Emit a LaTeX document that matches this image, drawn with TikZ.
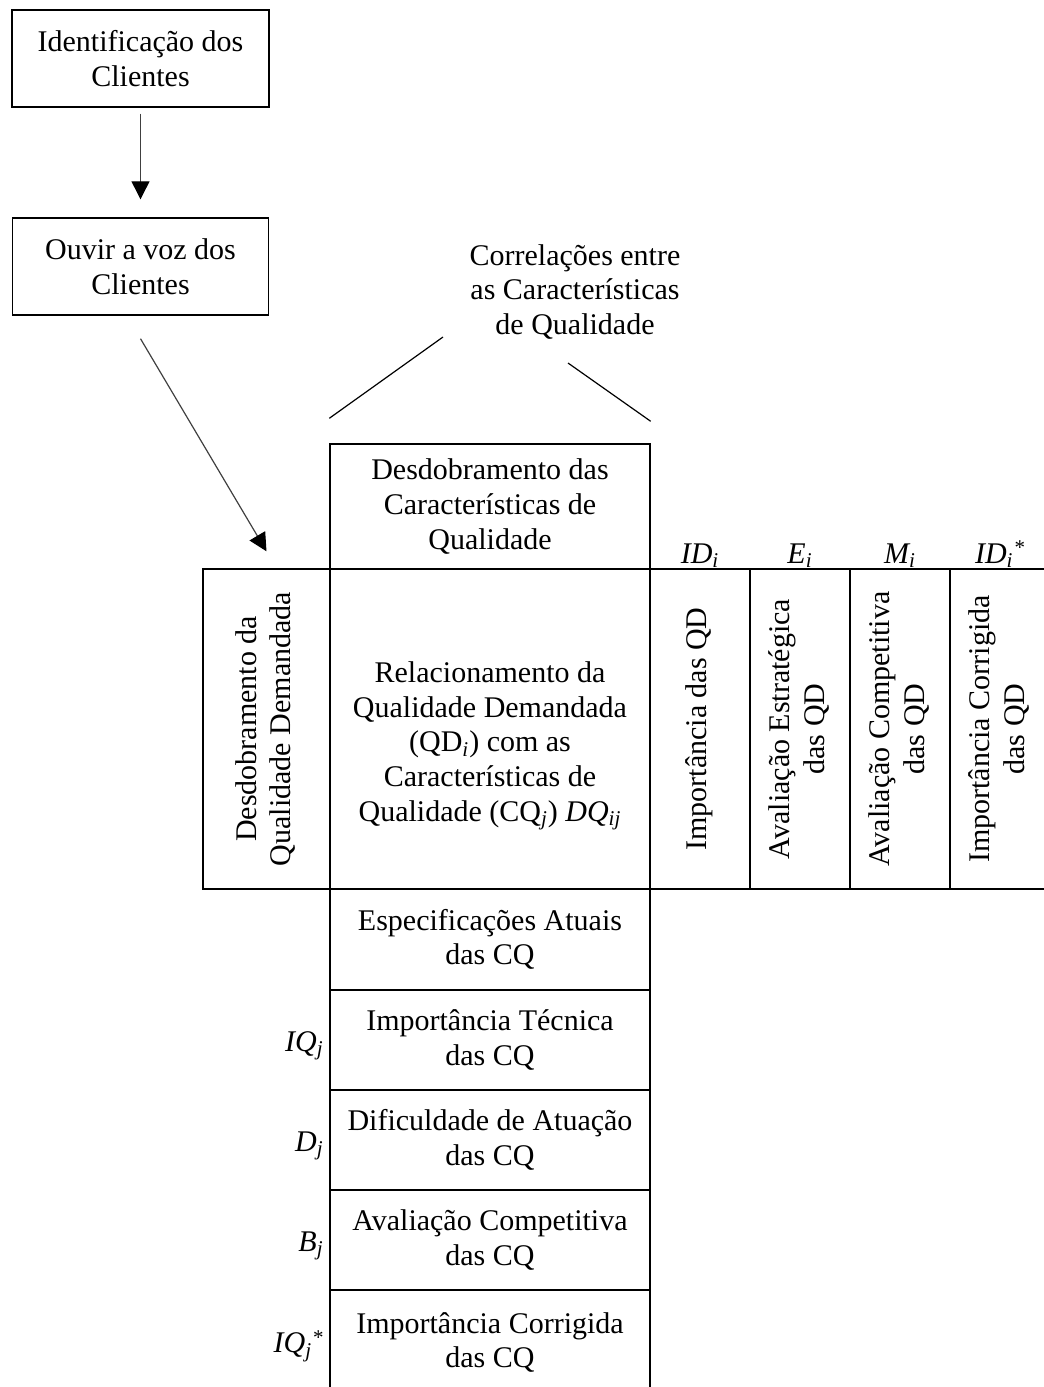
\documentclass[tikz,border=0pt]{standalone}
\usepackage{fontspec}
\setmainfont{Liberation Serif}
\usepackage{graphicx}
\usetikzlibrary{arrows.meta}
\newcommand{\vtext}[1]{\rotatebox{90}{\begin{tabular}{@{}c@{}}#1\end{tabular}}}
\begin{document}
\begin{tikzpicture}[x=0.5pt,y=-0.5pt,
  every node/.style={font=\fontsize{15}{17.3}\selectfont, inner sep=0pt},
  cell/.style={draw, line width=0.7pt, align=center},
  tag/.style={font=\fontsize{15}{17.3}\selectfont\itshape},
  link/.style={line width=0.6pt, draw=black!75, -{Triangle[length=9pt,width=9pt,color=black]}},
  roof/.style={line width=0.6pt}]
\useasboundingbox (0,0) rectangle (1044,1387);

% customer boxes
\node[cell, minimum width=128.5pt, minimum height=48.5pt] (ident) at (140.5,58.5) {Identificação dos\\Clientes};
\node[cell, minimum width=128pt, minimum height=48.5pt] (ouvir) at (140.5,266.5) {Ouvir a voz dos\\Clientes};

% roof of the house
\node[align=center] (corr) at (575,292) {Correlações entre\\as Características\\de Qualidade};
\node[cell, minimum width=160pt, minimum height=62.5pt] (dcq) at (490,506.5) {Desdobramento das\\Características de\\Qualidade};
\coordinate (roofl) at (443,337);
\coordinate (roofr) at (568,363);
\draw[roof] ([yshift=12.5pt]dcq.north west) -- (roofl);
\draw[roof] (roofr) -- ([yshift=11pt]dcq.north east);

% central row
\node[cell, minimum width=63.5pt, minimum height=160pt] (dqd) at (266.5,729) {\vtext{Desdobramento da\\Qualidade Demandada}};
\node[cell, minimum width=160pt, minimum height=160pt] (rel) at (490,729) {\\[10pt]Relacionamento da\\Qualidade Demandada\\(QD\textsubscript{\textit{i}}) com as\\Características de\\Qualidade (CQ\textsubscript{\textit{j}}) \textit{DQ\textsubscript{ij}}};
\node[cell, minimum width=50pt, minimum height=160pt] (c1) at (700,729) {\vtext{Importância das QD}};
\node[cell, minimum width=50pt, minimum height=160pt] (c2) at (800,729) {\vtext{Avaliação Estratégica\\das QD}};
\node[cell, minimum width=50pt, minimum height=160pt] (c3) at (900,729) {\vtext{Avaliação Competitiva\\das QD}};
\node[cell, minimum width=50pt, minimum height=160pt] (c4) at (1000,729) {\vtext{Importância Corrigida\\das QD}};

% column headings
\node[tag, anchor=base] (h1) at (700,563) {ID\textsubscript{i}};
\node[tag, anchor=base] (h2) at (800,563) {E\textsubscript{i}};
\node[tag, anchor=base] (h3) at (900,563) {M\textsubscript{i}};
\node[tag, anchor=base] (h4) at (1000,563) {ID\textsubscript{i}\raisebox{-1pt}{\textsuperscript{*}}};

% lower column
\node[cell, minimum width=160pt, minimum height=50.5pt] (r1) at (490,939.5) {Especificações Atuais\\das CQ};
\node[cell, minimum width=160pt, minimum height=50pt] (r2) at (490,1040) {Importância Técnica\\das CQ};
\node[cell, minimum width=160pt, minimum height=50pt] (r3) at (490,1140) {Dificuldade de Atuação\\das CQ};
\node[cell, minimum width=160pt, minimum height=50pt] (r4) at (490,1240) {Avaliação Competitiva\\das CQ};
\node[cell, minimum width=160pt, minimum height=52.5pt] (r5) at (490,1342.5) {Importância Corrigida\\das CQ};

% row headings
\node[tag, anchor=east] (s2) at (324,1046) {IQ\textsubscript{j}};
\node[tag, anchor=east] (s3) at (324,1146) {D\textsubscript{j}};
\node[tag, anchor=east] (s4) at (324,1246) {B\textsubscript{j}};
\node[tag, anchor=east] (s5) at (324,1346) {IQ\textsubscript{j}\raisebox{-1pt}{\textsuperscript{*}}};

% flow arrows
\draw[link] ([yshift=-3pt]ident.south) -- ([yshift=9pt]ouvir.north);
\draw[link] ([yshift=-11.5pt]ouvir.south) -- ([yshift=8.5pt]dqd.north);
\end{tikzpicture}
\end{document}
